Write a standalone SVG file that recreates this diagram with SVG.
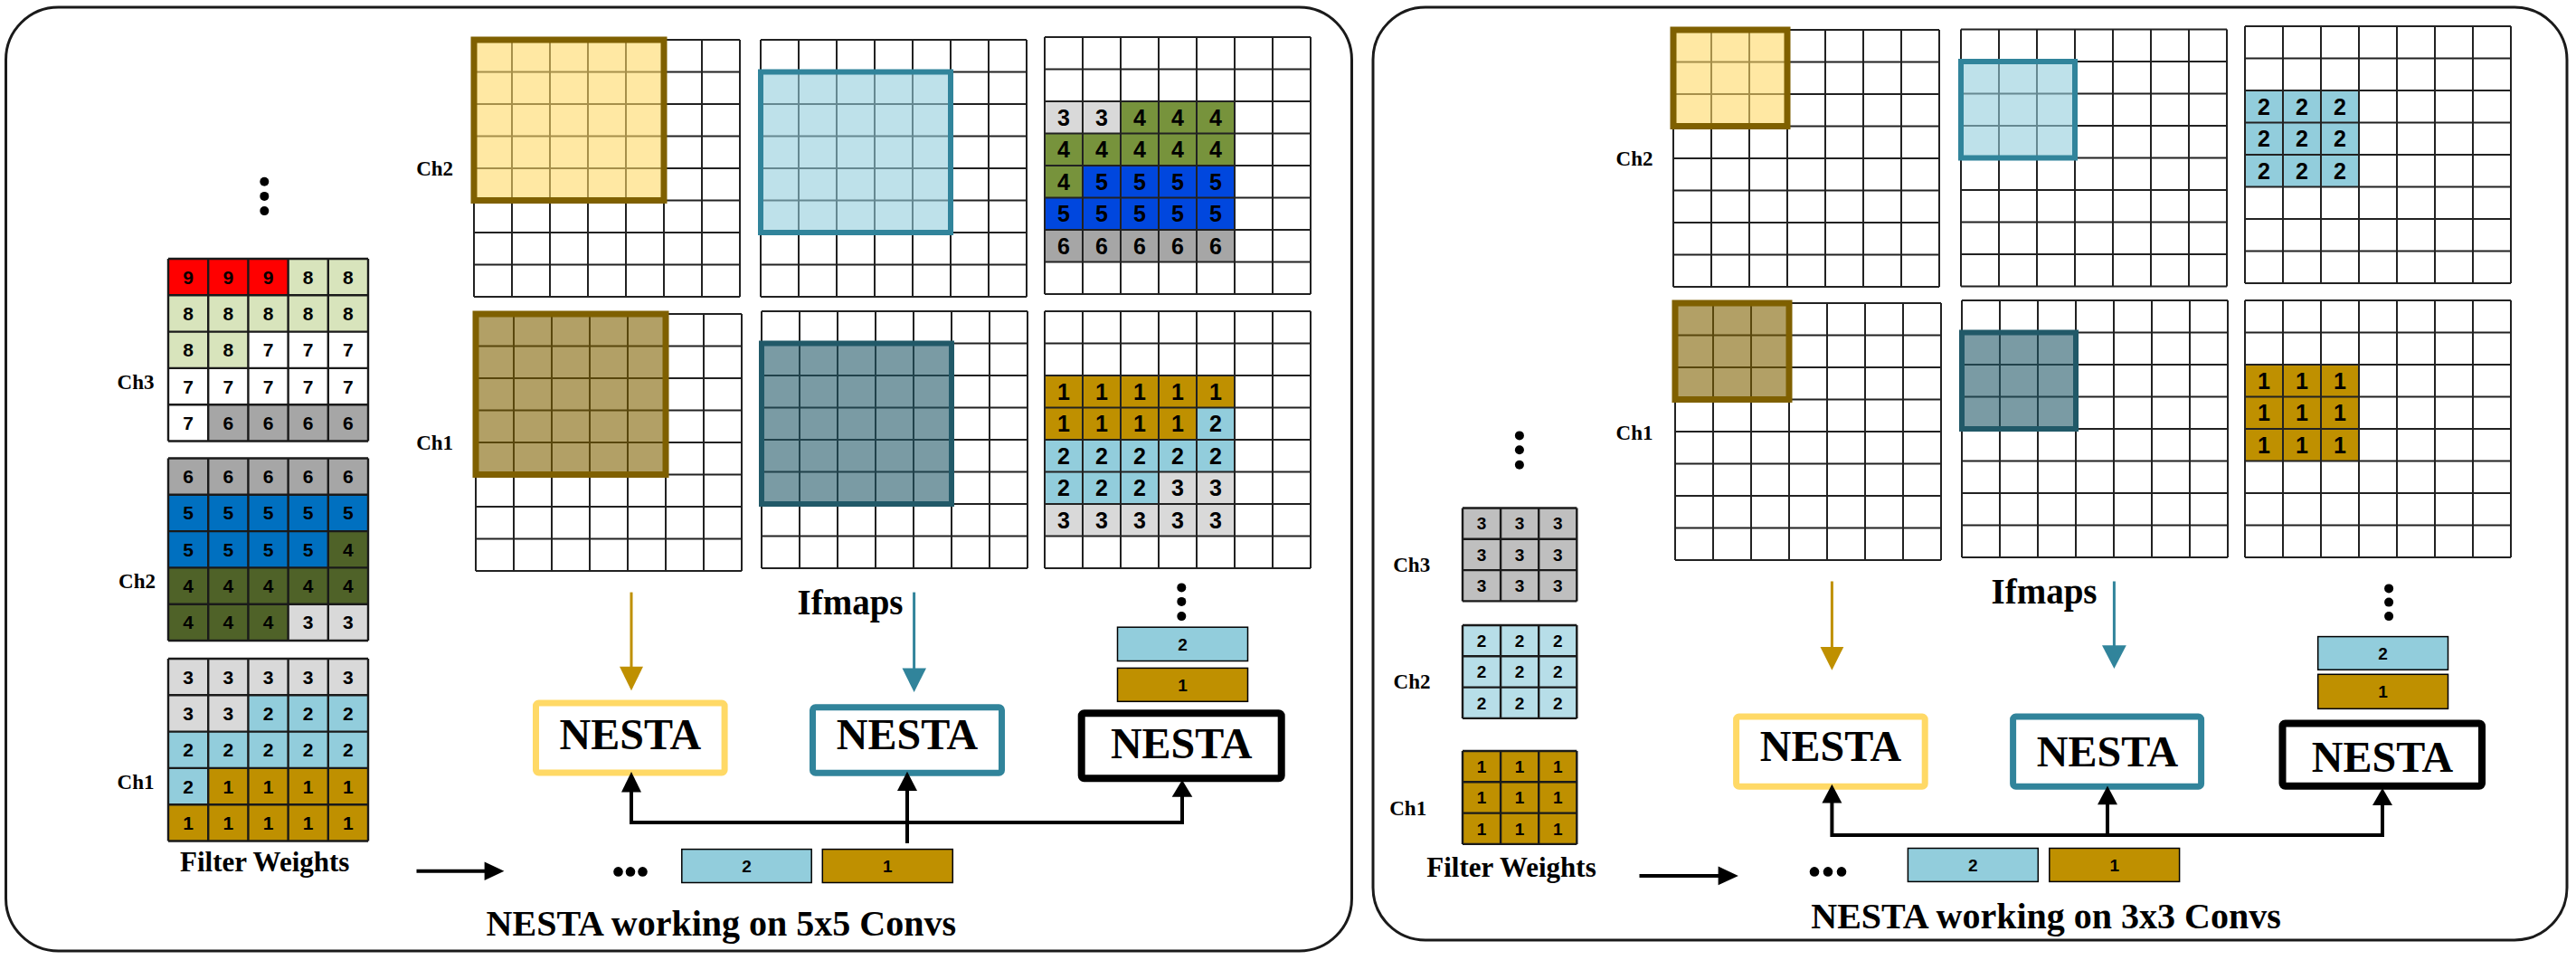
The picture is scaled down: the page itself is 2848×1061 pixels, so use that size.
<svg xmlns="http://www.w3.org/2000/svg" xmlns:xlink="http://www.w3.org/1999/xlink" width="2848" height="1061" viewBox="0 0 2848 1061">
<style>
.panel{fill:#fff;stroke:#1a1a1a;stroke-width:3}
.gl{fill:none;stroke:#222;stroke-width:2}
.fl{fill:none;stroke:#1a1a1a;stroke-width:2.4}
.d{font-family:"Liberation Sans",Arial,sans-serif;font-weight:bold;text-anchor:middle;fill:#000}
.d25{font-size:25px}.d21{font-size:21px}.d19{font-size:19px}
.lbl{font-family:"Liberation Serif","Times New Roman",serif;font-weight:bold;text-anchor:middle;fill:#000}
.ch{font-size:23px}.fw{font-size:31px}.ifm{font-size:39px}.ttl{font-size:40px}.nes{font-size:48px}
.wy{fill:#FFD966;fill-opacity:.6;stroke:#7F6000;stroke-width:7}
.wt{fill:#92CDDC;fill-opacity:.6;stroke:#31849B;stroke-width:6}
.wb{fill:#7F6000;fill-opacity:.6;stroke:#7F6000;stroke-width:7}
.wd{fill:#215968;fill-opacity:.6;stroke:#215968;stroke-width:6}
.bar{stroke:#000;stroke-width:1.5}
.conn{fill:none;stroke:#000;stroke-width:4}
.dot{fill:#000}
</style>
<defs>
<path id="g78" class="gl" d="M0 0V284M42 0V284M84 0V284M126 0V284M168 0V284M210 0V284M252 0V284M294 0V284M0 0H294M0 35.5H294M0 71H294M0 106.5H294M0 142H294M0 177.5H294M0 213H294M0 248.5H294M0 284H294"/>
<path id="f5" class="fl" d="M0 0V201.5M44.2 0V201.5M88.4 0V201.5M132.6 0V201.5M176.8 0V201.5M221 0V201.5M0 0H221M0 40.3H221M0 80.6H221M0 120.9H221M0 161.2H221M0 201.5H221"/>
<path id="f3" class="fl" d="M0 0V102.9M42.1 0V102.9M84.2 0V102.9M126.3 0V102.9M0 0H126.3M0 34.3H126.3M0 68.6H126.3M0 102.9H126.3"/>
</defs>

<!-- panels -->
<rect class="panel" x="6.5" y="8" width="1488" height="1043" rx="58" ry="58"/>
<rect class="panel" x="1518" y="8" width="1320" height="1031" rx="58" ry="58"/>

<!-- ===== LEFT PANEL (5x5) ===== -->
<g id="left-dots-top">
<circle class="dot" cx="292.3" cy="200.8" r="5"/><circle class="dot" cx="292.3" cy="216.9" r="5"/><circle class="dot" cx="292.3" cy="233.1" r="5"/>
</g>

<g id="filter5-ch3">
<rect x="186" y="286" width="221" height="201.5" fill="#fff"/>
<rect x="186" y="286" width="132.6" height="40.3" fill="#FF0000"/>
<rect x="318.6" y="286" width="88.4" height="40.3" fill="#D8E4BC"/>
<rect x="186" y="326.3" width="221" height="40.3" fill="#D8E4BC"/>
<rect x="186" y="366.6" width="88.4" height="40.3" fill="#D8E4BC"/>
<rect x="230.2" y="447.2" width="176.8" height="40.3" fill="#A6A6A6"/>
<use href="#f5" x="186" y="286"/>
<text class="d d21" x="208.1" y="313.65">9</text><text class="d d21" x="252.3" y="313.65">9</text><text class="d d21" x="296.5" y="313.65">9</text><text class="d d21" x="340.7" y="313.65">8</text><text class="d d21" x="384.9" y="313.65">8</text>
<text class="d d21" x="208.1" y="353.95">8</text><text class="d d21" x="252.3" y="353.95">8</text><text class="d d21" x="296.5" y="353.95">8</text><text class="d d21" x="340.7" y="353.95">8</text><text class="d d21" x="384.9" y="353.95">8</text>
<text class="d d21" x="208.1" y="394.25">8</text><text class="d d21" x="252.3" y="394.25">8</text><text class="d d21" x="296.5" y="394.25">7</text><text class="d d21" x="340.7" y="394.25">7</text><text class="d d21" x="384.9" y="394.25">7</text>
<text class="d d21" x="208.1" y="434.55">7</text><text class="d d21" x="252.3" y="434.55">7</text><text class="d d21" x="296.5" y="434.55">7</text><text class="d d21" x="340.7" y="434.55">7</text><text class="d d21" x="384.9" y="434.55">7</text>
<text class="d d21" x="208.1" y="474.85">7</text><text class="d d21" x="252.3" y="474.85">6</text><text class="d d21" x="296.5" y="474.85">6</text><text class="d d21" x="340.7" y="474.85">6</text><text class="d d21" x="384.9" y="474.85">6</text>
<text class="lbl ch" x="150" y="430">Ch3</text>
</g>

<g id="filter5-ch2">
<rect x="186" y="506.5" width="221" height="40.3" fill="#A6A6A6"/>
<rect x="186" y="546.8" width="221" height="40.3" fill="#0070C0"/>
<rect x="186" y="587.1" width="176.8" height="40.3" fill="#0070C0"/>
<rect x="362.8" y="587.1" width="44.2" height="40.3" fill="#4F6228"/>
<rect x="186" y="627.4" width="221" height="40.3" fill="#4F6228"/>
<rect x="186" y="667.7" width="132.6" height="40.3" fill="#4F6228"/>
<rect x="318.6" y="667.7" width="88.4" height="40.3" fill="#D9D9D9"/>
<use href="#f5" x="186" y="506.5"/>
<text class="d d21" x="208.1" y="534.15">6</text><text class="d d21" x="252.3" y="534.15">6</text><text class="d d21" x="296.5" y="534.15">6</text><text class="d d21" x="340.7" y="534.15">6</text><text class="d d21" x="384.9" y="534.15">6</text>
<text class="d d21" x="208.1" y="574.45">5</text><text class="d d21" x="252.3" y="574.45">5</text><text class="d d21" x="296.5" y="574.45">5</text><text class="d d21" x="340.7" y="574.45">5</text><text class="d d21" x="384.9" y="574.45">5</text>
<text class="d d21" x="208.1" y="614.75">5</text><text class="d d21" x="252.3" y="614.75">5</text><text class="d d21" x="296.5" y="614.75">5</text><text class="d d21" x="340.7" y="614.75">5</text><text class="d d21" x="384.9" y="614.75">4</text>
<text class="d d21" x="208.1" y="655.05">4</text><text class="d d21" x="252.3" y="655.05">4</text><text class="d d21" x="296.5" y="655.05">4</text><text class="d d21" x="340.7" y="655.05">4</text><text class="d d21" x="384.9" y="655.05">4</text>
<text class="d d21" x="208.1" y="695.35">4</text><text class="d d21" x="252.3" y="695.35">4</text><text class="d d21" x="296.5" y="695.35">4</text><text class="d d21" x="340.7" y="695.35">3</text><text class="d d21" x="384.9" y="695.35">3</text>
<text class="lbl ch" x="151.5" y="650">Ch2</text>
</g>

<g id="filter5-ch1">
<rect x="186" y="728" width="221" height="40.3" fill="#D9D9D9"/>
<rect x="186" y="768.3" width="88.4" height="40.3" fill="#D9D9D9"/>
<rect x="274.4" y="768.3" width="132.6" height="40.3" fill="#92CDDC"/>
<rect x="186" y="808.6" width="221" height="40.3" fill="#92CDDC"/>
<rect x="186" y="848.9" width="44.2" height="40.3" fill="#92CDDC"/>
<rect x="230.2" y="848.9" width="176.8" height="40.3" fill="#BF9000"/>
<rect x="186" y="889.2" width="221" height="40.3" fill="#BF9000"/>
<use href="#f5" x="186" y="728"/>
<text class="d d21" x="208.1" y="755.65">3</text><text class="d d21" x="252.3" y="755.65">3</text><text class="d d21" x="296.5" y="755.65">3</text><text class="d d21" x="340.7" y="755.65">3</text><text class="d d21" x="384.9" y="755.65">3</text>
<text class="d d21" x="208.1" y="795.95">3</text><text class="d d21" x="252.3" y="795.95">3</text><text class="d d21" x="296.5" y="795.95">2</text><text class="d d21" x="340.7" y="795.95">2</text><text class="d d21" x="384.9" y="795.95">2</text>
<text class="d d21" x="208.1" y="836.25">2</text><text class="d d21" x="252.3" y="836.25">2</text><text class="d d21" x="296.5" y="836.25">2</text><text class="d d21" x="340.7" y="836.25">2</text><text class="d d21" x="384.9" y="836.25">2</text>
<text class="d d21" x="208.1" y="876.55">2</text><text class="d d21" x="252.3" y="876.55">1</text><text class="d d21" x="296.5" y="876.55">1</text><text class="d d21" x="340.7" y="876.55">1</text><text class="d d21" x="384.9" y="876.55">1</text>
<text class="d d21" x="208.1" y="916.85">1</text><text class="d d21" x="252.3" y="916.85">1</text><text class="d d21" x="296.5" y="916.85">1</text><text class="d d21" x="340.7" y="916.85">1</text><text class="d d21" x="384.9" y="916.85">1</text>
<text class="lbl ch" x="150" y="872">Ch1</text>
</g>
<text class="lbl fw" x="292.7" y="963.4">Filter Weights</text>

<g id="ifmap5-ch2-a">
<use href="#g78" x="524" y="44"/>
<rect class="wy" x="524" y="44" width="210" height="177.5"/>
<text class="lbl ch" x="480.6" y="194">Ch2</text>
</g>
<g id="ifmap5-ch2-b">
<use href="#g78" x="841" y="44"/>
<rect class="wt" x="841" y="79.5" width="210" height="177.5"/>
</g>
<g id="ifmap5-ch2-c">
<rect x="1155" y="112" width="84" height="35.5" fill="#D9D9D9"/>
<rect x="1239" y="112" width="126" height="35.5" fill="#77933C"/>
<rect x="1155" y="147.5" width="210" height="35.5" fill="#77933C"/>
<rect x="1155" y="183" width="42" height="35.5" fill="#77933C"/>
<rect x="1197" y="183" width="168" height="35.5" fill="#0047DE"/>
<rect x="1155" y="218.5" width="210" height="35.5" fill="#0047DE"/>
<rect x="1155" y="254" width="210" height="35.5" fill="#A6A6A6"/>
<use href="#g78" x="1155" y="41"/>
<text class="d d25" x="1176" y="138.75">3</text><text class="d d25" x="1218" y="138.75">3</text><text class="d d25" x="1260" y="138.75">4</text><text class="d d25" x="1302" y="138.75">4</text><text class="d d25" x="1344" y="138.75">4</text>
<text class="d d25" x="1176" y="174.25">4</text><text class="d d25" x="1218" y="174.25">4</text><text class="d d25" x="1260" y="174.25">4</text><text class="d d25" x="1302" y="174.25">4</text><text class="d d25" x="1344" y="174.25">4</text>
<text class="d d25" x="1176" y="209.75">4</text><text class="d d25" x="1218" y="209.75">5</text><text class="d d25" x="1260" y="209.75">5</text><text class="d d25" x="1302" y="209.75">5</text><text class="d d25" x="1344" y="209.75">5</text>
<text class="d d25" x="1176" y="245.25">5</text><text class="d d25" x="1218" y="245.25">5</text><text class="d d25" x="1260" y="245.25">5</text><text class="d d25" x="1302" y="245.25">5</text><text class="d d25" x="1344" y="245.25">5</text>
<text class="d d25" x="1176" y="280.75">6</text><text class="d d25" x="1218" y="280.75">6</text><text class="d d25" x="1260" y="280.75">6</text><text class="d d25" x="1302" y="280.75">6</text><text class="d d25" x="1344" y="280.75">6</text>
</g>

<g id="ifmap5-ch1-a">
<use href="#g78" x="526" y="347"/>
<rect class="wb" x="526" y="347" width="210" height="177.5"/>
<text class="lbl ch" x="480.6" y="497">Ch1</text>
</g>
<g id="ifmap5-ch1-b">
<use href="#g78" x="842" y="344"/>
<rect class="wd" x="842" y="379.5" width="210" height="177.5"/>
</g>
<g id="ifmap5-ch1-c">
<rect x="1155" y="415" width="210" height="35.5" fill="#BF9000"/>
<rect x="1155" y="450.5" width="168" height="35.5" fill="#BF9000"/>
<rect x="1323" y="450.5" width="42" height="35.5" fill="#92CDDC"/>
<rect x="1155" y="486" width="210" height="35.5" fill="#92CDDC"/>
<rect x="1155" y="521.5" width="126" height="35.5" fill="#92CDDC"/>
<rect x="1281" y="521.5" width="84" height="35.5" fill="#D9D9D9"/>
<rect x="1155" y="557" width="210" height="35.5" fill="#D9D9D9"/>
<use href="#g78" x="1155" y="344"/>
<text class="d d25" x="1176" y="441.75">1</text><text class="d d25" x="1218" y="441.75">1</text><text class="d d25" x="1260" y="441.75">1</text><text class="d d25" x="1302" y="441.75">1</text><text class="d d25" x="1344" y="441.75">1</text>
<text class="d d25" x="1176" y="477.25">1</text><text class="d d25" x="1218" y="477.25">1</text><text class="d d25" x="1260" y="477.25">1</text><text class="d d25" x="1302" y="477.25">1</text><text class="d d25" x="1344" y="477.25">2</text>
<text class="d d25" x="1176" y="512.75">2</text><text class="d d25" x="1218" y="512.75">2</text><text class="d d25" x="1260" y="512.75">2</text><text class="d d25" x="1302" y="512.75">2</text><text class="d d25" x="1344" y="512.75">2</text>
<text class="d d25" x="1176" y="548.25">2</text><text class="d d25" x="1218" y="548.25">2</text><text class="d d25" x="1260" y="548.25">2</text><text class="d d25" x="1302" y="548.25">3</text><text class="d d25" x="1344" y="548.25">3</text>
<text class="d d25" x="1176" y="583.75">3</text><text class="d d25" x="1218" y="583.75">3</text><text class="d d25" x="1260" y="583.75">3</text><text class="d d25" x="1302" y="583.75">3</text><text class="d d25" x="1344" y="583.75">3</text>
</g>

<text class="lbl ifm" x="940" y="679.4">Ifmaps</text>

<g id="left-stack">
<circle class="dot" cx="1306.3" cy="649.4" r="5"/><circle class="dot" cx="1306.3" cy="664.9" r="5"/><circle class="dot" cx="1306.3" cy="681.1" r="5"/>
<rect class="bar" x="1235.5" y="693.2" width="144" height="37.3" fill="#92CDDC"/>
<text class="d d19" x="1307.5" y="718.7">2</text>
<rect class="bar" x="1235.5" y="738.4" width="144" height="36.9" fill="#BF9000"/>
<text class="d d19" x="1307.5" y="763.7">1</text>
</g>

<g id="nesta5-yellow">
<rect x="592.5" y="777" width="208.6" height="77" rx="3" fill="#fff" stroke="#FFD966" stroke-width="7"/>
<text class="lbl nes" x="696.8" y="828">NESTA</text>
</g>
<g id="nesta5-teal">
<rect x="898.5" y="781.8" width="209" height="72.4" rx="3" fill="#fff" stroke="#31849B" stroke-width="7"/>
<text class="lbl nes" x="1003" y="828">NESTA</text>
</g>
<g id="nesta5-black">
<rect x="1195.7" y="788.3" width="221" height="72" rx="3" fill="#fff" stroke="#000" stroke-width="8"/>
<text class="lbl nes" x="1306.2" y="838">NESTA</text>
</g>

<g id="left-weights-bottom">
<circle class="dot" cx="683.5" cy="963.4" r="5.3"/><circle class="dot" cx="697" cy="963.4" r="5.3"/><circle class="dot" cx="710.5" cy="963.4" r="5.3"/>
<rect class="bar" x="753.8" y="938.6" width="143.4" height="36.9" fill="#92CDDC"/>
<text class="d d19" x="825.5" y="963.8">2</text>
<rect class="bar" x="909.3" y="938.6" width="144" height="36.9" fill="#BF9000"/>
<text class="d d19" x="981.3" y="963.8">1</text>
</g>

<text class="lbl ttl" x="797.3" y="1034">NESTA working on 5x5 Convs</text>

<!-- ===== RIGHT PANEL (3x3) ===== -->
<g id="right-dots-left">
<circle class="dot" cx="1679.9" cy="481.4" r="5"/><circle class="dot" cx="1679.9" cy="497.2" r="5"/><circle class="dot" cx="1679.9" cy="513.8" r="5"/>
</g>

<g id="filter3-ch3">
<rect x="1617" y="561.5" width="126.3" height="102.9" fill="#BFBFBF"/>
<use href="#f3" x="1617" y="561.5"/>
<text class="d d19" x="1638.05" y="585.45">3</text><text class="d d19" x="1680.15" y="585.45">3</text><text class="d d19" x="1722.25" y="585.45">3</text>
<text class="d d19" x="1638.05" y="619.75">3</text><text class="d d19" x="1680.15" y="619.75">3</text><text class="d d19" x="1722.25" y="619.75">3</text>
<text class="d d19" x="1638.05" y="654.05">3</text><text class="d d19" x="1680.15" y="654.05">3</text><text class="d d19" x="1722.25" y="654.05">3</text>
<text class="lbl ch" x="1560.7" y="631.5">Ch3</text>
</g>
<g id="filter3-ch2">
<rect x="1617" y="691" width="126.3" height="102.9" fill="#B7DEE8"/>
<use href="#f3" x="1617" y="691"/>
<text class="d d19" x="1638.05" y="714.95">2</text><text class="d d19" x="1680.15" y="714.95">2</text><text class="d d19" x="1722.25" y="714.95">2</text>
<text class="d d19" x="1638.05" y="749.25">2</text><text class="d d19" x="1680.15" y="749.25">2</text><text class="d d19" x="1722.25" y="749.25">2</text>
<text class="d d19" x="1638.05" y="783.55">2</text><text class="d d19" x="1680.15" y="783.55">2</text><text class="d d19" x="1722.25" y="783.55">2</text>
<text class="lbl ch" x="1561" y="761">Ch2</text>
</g>
<g id="filter3-ch1">
<rect x="1617" y="830" width="126.3" height="102.9" fill="#BF9000"/>
<use href="#f3" x="1617" y="830"/>
<text class="d d19" x="1638.05" y="853.95">1</text><text class="d d19" x="1680.15" y="853.95">1</text><text class="d d19" x="1722.25" y="853.95">1</text>
<text class="d d19" x="1638.05" y="888.25">1</text><text class="d d19" x="1680.15" y="888.25">1</text><text class="d d19" x="1722.25" y="888.25">1</text>
<text class="d d19" x="1638.05" y="922.55">1</text><text class="d d19" x="1680.15" y="922.55">1</text><text class="d d19" x="1722.25" y="922.55">1</text>
<text class="lbl ch" x="1556.7" y="900.5">Ch1</text>
</g>
<text class="lbl fw" x="1671" y="969">Filter Weights</text>

<g id="ifmap3-ch2-a">
<use href="#g78" x="1850" y="33"/>
<rect class="wy" x="1850" y="33" width="126" height="106.5"/>
<text class="lbl ch" x="1807" y="182.5">Ch2</text>
</g>
<g id="ifmap3-ch2-b">
<use href="#g78" x="2168" y="32.5"/>
<rect class="wt" x="2168" y="68" width="126" height="106.5"/>
</g>
<g id="ifmap3-ch2-c">
<rect x="2482" y="100" width="126" height="106.5" fill="#92CDDC"/>
<use href="#g78" x="2482" y="29"/>
<text class="d d25" x="2503" y="126.75">2</text><text class="d d25" x="2545" y="126.75">2</text><text class="d d25" x="2587" y="126.75">2</text>
<text class="d d25" x="2503" y="162.25">2</text><text class="d d25" x="2545" y="162.25">2</text><text class="d d25" x="2587" y="162.25">2</text>
<text class="d d25" x="2503" y="197.75">2</text><text class="d d25" x="2545" y="197.75">2</text><text class="d d25" x="2587" y="197.75">2</text>
</g>
<g id="ifmap3-ch1-a">
<use href="#g78" x="1852" y="335"/>
<rect class="wb" x="1852" y="335" width="126" height="106.5"/>
<text class="lbl ch" x="1807" y="485.5">Ch1</text>
</g>
<g id="ifmap3-ch1-b">
<use href="#g78" x="2169" y="332"/>
<rect class="wd" x="2169" y="367.5" width="126" height="106.5"/>
</g>
<g id="ifmap3-ch1-c">
<rect x="2482" y="403" width="126" height="106.5" fill="#BF9000"/>
<use href="#g78" x="2482" y="332"/>
<text class="d d25" x="2503" y="429.75">1</text><text class="d d25" x="2545" y="429.75">1</text><text class="d d25" x="2587" y="429.75">1</text>
<text class="d d25" x="2503" y="465.25">1</text><text class="d d25" x="2545" y="465.25">1</text><text class="d d25" x="2587" y="465.25">1</text>
<text class="d d25" x="2503" y="500.75">1</text><text class="d d25" x="2545" y="500.75">1</text><text class="d d25" x="2587" y="500.75">1</text>
</g>

<text class="lbl ifm" x="2260" y="666.7">Ifmaps</text>

<g id="right-stack">
<circle class="dot" cx="2641.1" cy="650.4" r="5"/><circle class="dot" cx="2641.1" cy="665.6" r="5"/><circle class="dot" cx="2641.1" cy="681.1" r="5"/>
<rect class="bar" x="2562.7" y="703.6" width="143.8" height="36.6" fill="#92CDDC"/>
<text class="d d19" x="2634.6" y="728.7">2</text>
<rect class="bar" x="2562.7" y="745.3" width="143.8" height="38" fill="#BF9000"/>
<text class="d d19" x="2634.6" y="771.1">1</text>
</g>

<g id="nesta3-yellow">
<rect x="1919.6" y="792" width="208.6" height="77.2" rx="3" fill="#fff" stroke="#FFD966" stroke-width="7"/>
<text class="lbl nes" x="2024" y="841">NESTA</text>
</g>
<g id="nesta3-teal">
<rect x="2225.6" y="792" width="208" height="77.2" rx="3" fill="#fff" stroke="#31849B" stroke-width="7"/>
<text class="lbl nes" x="2330" y="847">NESTA</text>
</g>
<g id="nesta3-black">
<rect x="2523.5" y="799.4" width="220.5" height="69.3" rx="3" fill="#fff" stroke="#000" stroke-width="8"/>
<text class="lbl nes" x="2634" y="853">NESTA</text>
</g>

<g id="right-weights-bottom">
<circle class="dot" cx="2006" cy="963.4" r="5.3"/><circle class="dot" cx="2021" cy="963.4" r="5.3"/><circle class="dot" cx="2036" cy="963.4" r="5.3"/>
<rect class="bar" x="2109.4" y="937.5" width="143.9" height="36.9" fill="#92CDDC"/>
<text class="d d19" x="2181.4" y="962.8">2</text>
<rect class="bar" x="2265.8" y="937.5" width="143.8" height="36.9" fill="#BF9000"/>
<text class="d d19" x="2337.7" y="962.8">1</text>
</g>

<text class="lbl ttl" x="2262" y="1025.5">NESTA working on 3x3 Convs</text>

<!-- ===== CONNECTORS ===== -->
<g id="connectors">
<!-- left panel -->
<line x1="698" y1="654.6" x2="698" y2="738" stroke="#BF9000" stroke-width="3"/>
<polygon points="685,736.7 711,736.7 698,763.3" fill="#BF9000"/>
<line x1="1010.6" y1="654.6" x2="1010.6" y2="740" stroke="#31849B" stroke-width="3"/>
<polygon points="997.5,738.4 1024,738.4 1010.6,765" fill="#31849B"/>
<path class="conn" d="M698 874V909H1307V879"/>
<path class="conn" d="M1003 932V872"/>
<polygon points="687,875.4 709,875.4 698,853"/>
<polygon points="992,874 1014,874 1003,852.7"/>
<polygon points="1295.7,880.7 1318.3,880.7 1307,862"/>
<line x1="460.5" y1="962.7" x2="537" y2="962.7" stroke="#000" stroke-width="4"/>
<polygon points="535.6,952.5 535.6,973 557.4,962.7"/>
<!-- right panel -->
<line x1="2025.4" y1="642.5" x2="2025.4" y2="716" stroke="#BF9000" stroke-width="3"/>
<polygon points="2012.5,715 2038.3,715 2025.4,740.8" fill="#BF9000"/>
<line x1="2337.4" y1="642.5" x2="2337.4" y2="714" stroke="#31849B" stroke-width="3"/>
<polygon points="2324,713.2 2350.8,713.2 2337.4,739.1" fill="#31849B"/>
<path class="conn" d="M2025.4 886V923H2634V888"/>
<path class="conn" d="M2330 923V888"/>
<polygon points="2014.4,887.5 2036.4,887.5 2025.4,866.8"/>
<polygon points="2319,889.2 2341,889.2 2330,868.5"/>
<polygon points="2623,889.9 2645,889.9 2634,871"/>
<line x1="1812.5" y1="967.9" x2="1901" y2="967.9" stroke="#000" stroke-width="4"/>
<polygon points="1899.6,957.6 1899.6,978.2 1921.9,967.9"/>
</g>
</svg>
